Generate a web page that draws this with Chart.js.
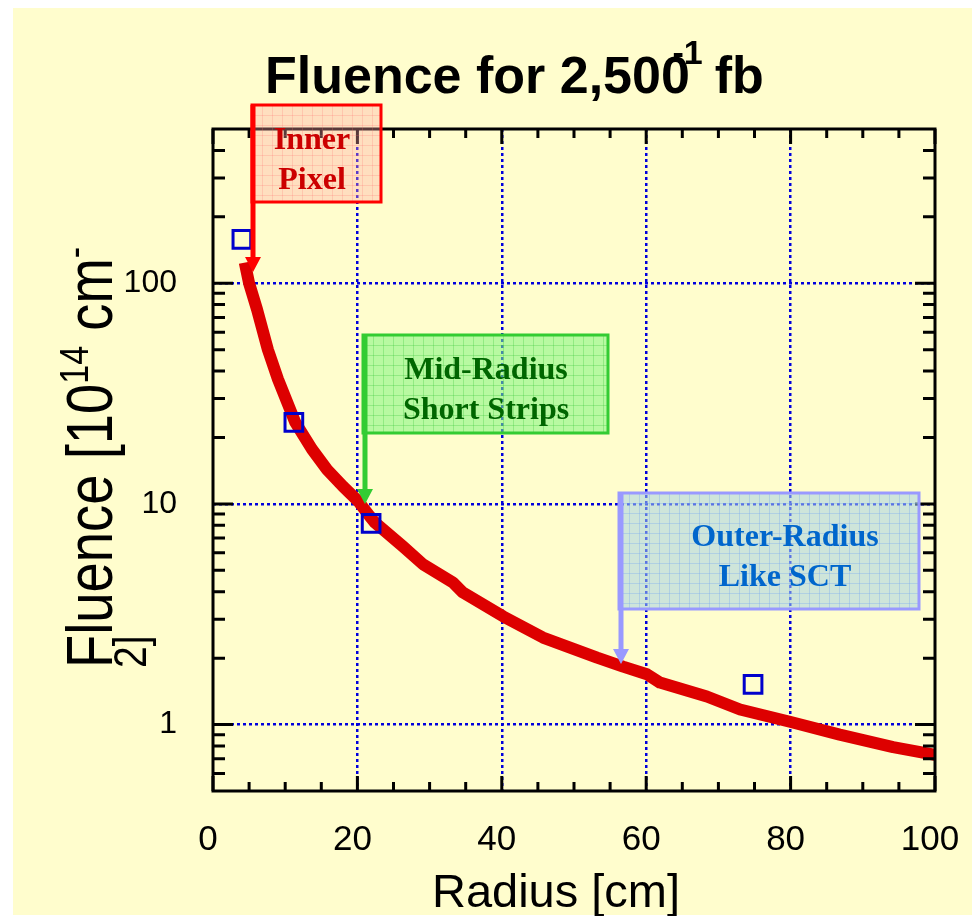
<!DOCTYPE html>
<html>
<head>
<meta charset="utf-8">
<script src="https://cdn.jsdelivr.net/npm/chart.js@4.4.0/dist/chart.umd.min.js"></script>
<style>
  html, body { margin: 0; padding: 0; background: #fff; }
</style>
</head>
<body>
<canvas id="canvas" width="972" height="916"></canvas>
<script>
// red curve: fluence vs radius
const radius = [4.4, 5.0, 6.1, 7.6, 9.0, 11.4, 13.7, 15.8, 18.0, 20.1, 21.7, 22.4, 26.3, 29.1, 33.2, 34.6, 40.2, 45.7, 53.2, 56.8, 60.1, 61.9, 68.4, 73.0, 79.9, 86.8, 94.2, 100];
const fluence = [124, 100, 76, 50, 36.7, 23.4, 17.7, 14.3, 12.0, 10.3, 8.8, 8.25, 6.42, 5.32, 4.41, 3.97, 3.09, 2.48, 2.01, 1.83, 1.69, 1.55, 1.34, 1.17, 1.03, 0.90, 0.79, 0.73];

// open blue squares
const layerRadius = [4.0, 11.2, 21.9, 74.8];
const layerFluence = [158, 23.4, 8.16, 1.52];

// axis ticks
const xTicks = [0, 20, 40, 60, 80, 100];
const yTicks = [1, 10, 100];
const xMinorTicks = [5, 10, 15, 25, 30, 35, 45, 50, 55, 65, 70, 75, 85, 90, 95];
const yMinorTicks = [0.6, 0.7, 0.8, 0.9, 2, 3, 4, 5, 6, 7, 8, 9, 20, 30, 40, 50, 60, 70, 80, 90, 200, 300, 400];

// callout boxes (pixels on the page)
const callouts = [
  {lines: ['Inner', 'Pixel'], box: [252, 105, 381, 202], tipY: 272, arrowX: 253, textX: 312,
   fill: 'rgba(255,165,165,0.35)', mesh: 'rgba(255,110,110,0.22)', edge: '#ff0000', ink: '#cc0000'},
  {lines: ['Mid-Radius', 'Short Strips'], box: [363, 335, 608, 433], tipY: 504, arrowX: 365, textX: 486,
   fill: 'rgba(125,245,125,0.55)', mesh: 'rgba(60,200,60,0.3)', edge: '#33cc33', ink: '#006600'},
  {lines: ['Outer-Radius', 'Like SCT'], box: [619, 493, 919, 609], tipY: 664, arrowX: 621, textX: 785,
   fill: 'rgba(165,210,230,0.55)', mesh: 'rgba(120,170,240,0.35)', edge: '#9999ff', ink: '#0066cc'}
];

const SANS = '"Liberation Sans", Arial, sans-serif';
const SERIF = '"Liberation Serif", "Times New Roman", serif';

const background = {
  id: 'background',
  beforeDraw(chart) {
    const c = chart.ctx;
    c.save();
    c.fillStyle = '#ffffff';
    c.fillRect(0, 0, chart.width, chart.height);
    c.fillStyle = '#fffdcd';
    c.fillRect(13, 8, chart.width - 13, 907);
    c.restore();
  }
};

const frame = {
  id: 'frame',
  afterDatasetsDraw(chart) {
    const c = chart.ctx;
    const {left, right, top, bottom} = chart.chartArea;
    const xs = chart.scales.x;
    const ys = chart.scales.y;
    c.save();
    c.strokeStyle = '#000';
    c.lineWidth = 3;
    c.strokeRect(left, top, right - left, bottom - top);
    c.beginPath();
    const tickX = (v, len) => {
      const px = xs.getPixelForValue(v);
      c.moveTo(px, bottom); c.lineTo(px, bottom - len);
      c.moveTo(px, top); c.lineTo(px, top + len);
    };
    const tickY = (v, len) => {
      const py = ys.getPixelForValue(v);
      c.moveTo(left, py); c.lineTo(left + len, py);
      c.moveTo(right, py); c.lineTo(right - len, py);
    };
    xTicks.forEach(v => tickX(v, 15));
    xMinorTicks.forEach(v => tickX(v, 9));
    yTicks.forEach(v => tickY(v, 20));
    yMinorTicks.forEach(v => tickY(v, 12));
    c.stroke();
    c.restore();
  }
};

const annotations = {
  id: 'annotations',
  afterDraw(chart) {
    const c = chart.ctx;
    c.save();
    for (const a of callouts) {
      const [x1, y1, x2, y2] = a.box;
      c.fillStyle = a.fill;
      c.fillRect(x1, y1, x2 - x1, y2 - y1);
      c.strokeStyle = a.mesh;
      c.lineWidth = 1;
      c.beginPath();
      for (let x = x1 + 10; x < x2; x += 10) { c.moveTo(x + 0.5, y1); c.lineTo(x + 0.5, y2); }
      for (let y = y1 + 10; y < y2; y += 10) { c.moveTo(x1, y + 0.5); c.lineTo(x2, y + 0.5); }
      c.stroke();
      c.strokeStyle = a.edge;
      c.lineWidth = 3;
      c.strokeRect(x1, y1, x2 - x1, y2 - y1);

      // arrow down from the box corner
      c.lineWidth = 5;
      c.beginPath();
      c.moveTo(a.arrowX, y1);
      c.lineTo(a.arrowX, a.tipY - 12);
      c.stroke();
      c.fillStyle = a.edge;
      c.beginPath();
      c.moveTo(a.arrowX - 8, a.tipY - 15);
      c.lineTo(a.arrowX + 8, a.tipY - 15);
      c.lineTo(a.arrowX, a.tipY);
      c.closePath();
      c.fill();

      c.fillStyle = a.ink;
      c.font = 'bold 32px ' + SERIF;
      c.textAlign = 'center';
      c.textBaseline = 'alphabetic';
      const mid = (y1 + y2) / 2;
      c.fillText(a.lines[0], a.textX, mid - 5);
      c.fillText(a.lines[1], a.textX, mid + 35);
    }
    c.restore();

    drawTitles(c);
  }
};

function drawTitles(c) {
  c.save();
  c.fillStyle = '#000';
  c.textAlign = 'left';
  c.textBaseline = 'alphabetic';

  // main title with the misplaced superscript
  c.font = 'bold 52px ' + SANS;
  const main = 'Fluence for 2,500';
  const x0 = 265;
  c.fillText(main, x0, 93);
  const w = c.measureText(main).width;
  c.font = 'bold 34px ' + SANS;
  const dashW = c.measureText('-').width;
  c.fillText('-1', x0 + w - dashW - 6, 64);
  const supW = c.measureText('-1').width;
  c.font = 'bold 52px ' + SANS;
  c.fillText('fb', x0 + w - dashW + supW + 6, 93);

  // x axis title
  c.font = '47px ' + SANS;
  c.textAlign = 'center';
  c.fillText('Radius [cm]', 556, 907);

  // y axis title, wrapped on two lines, a bit condensed
  c.textAlign = 'left';
  c.translate(112, 668);
  c.rotate(-Math.PI / 2);
  c.scale(0.85, 1);
  let x = 0;
  c.font = '64px ' + SANS;
  c.fillText('Fluence [10', x, 0);
  x += c.measureText('Fluence [10').width;
  c.font = '40px ' + SANS;
  c.fillText('14', x, -24);
  x += c.measureText('14').width;
  c.font = '64px ' + SANS;
  c.fillText(' cm', x, 0);
  x += c.measureText(' cm').width;
  c.font = '40px ' + SANS;
  c.fillText('-', x, -24);
  c.font = '46px ' + SANS;
  c.fillText('2]', 0, 34);
  c.restore();
}

const gridDash = [3, 3];

new Chart(document.getElementById('canvas'), {
  type: 'scatter',
  data: {
    datasets: [
      {
        type: 'line',
        data: radius.map((r, i) => ({x: r, y: fluence[i]})),
        borderColor: '#dd0000',
        borderWidth: 12,
        borderJoinStyle: 'round',
        pointRadius: 0,
        tension: 0,
        fill: false,
        order: 2
      },
      {
        data: layerRadius.map((r, i) => ({x: r, y: layerFluence[i]})),
        pointStyle: 'rect',
        pointRadius: 12.5,
        borderColor: '#0000cc',
        borderWidth: 3,
        backgroundColor: 'rgba(0,0,0,0)',
        order: 1
      }
    ]
  },
  options: {
    responsive: false,
    animation: false,
    layout: {padding: {top: 129, right: 37, left: 0, bottom: 0}},
    plugins: {legend: {display: false}, tooltip: {enabled: false}},
    scales: {
      x: {
        type: 'linear',
        min: 0,
        max: 100,
        afterBuildTicks: s => { s.ticks = xTicks.map(v => ({value: v})); },
        afterFit: s => { s.height = 125; s.paddingLeft = 0; s.paddingRight = 0; },
        ticks: {color: '#000', font: {family: SANS, size: 35}, padding: 28, labelOffset: -5, maxRotation: 0},
        grid: {
          color: ctx => (ctx.tick && (ctx.tick.value === 0 || ctx.tick.value === 100)) ? 'rgba(0,0,0,0)' : '#0000dd',
          lineWidth: 2.5,
          drawTicks: false
        },
        border: {display: false, dash: gridDash}
      },
      y: {
        type: 'logarithmic',
        min: 0.5,
        max: 500,
        afterBuildTicks: s => { s.ticks = yTicks.map(v => ({value: v})); },
        afterFit: s => { s.width = 213; s.paddingTop = 0; s.paddingBottom = 0; },
        ticks: {color: '#000', font: {family: SANS, size: 32}, padding: 36, callback: v => String(v)},
        grid: {color: '#0000dd', lineWidth: 2.5, drawTicks: false},
        border: {display: false, dash: gridDash}
      }
    }
  },
  plugins: [background, frame, annotations]
});
</script>
</body>
</html>
